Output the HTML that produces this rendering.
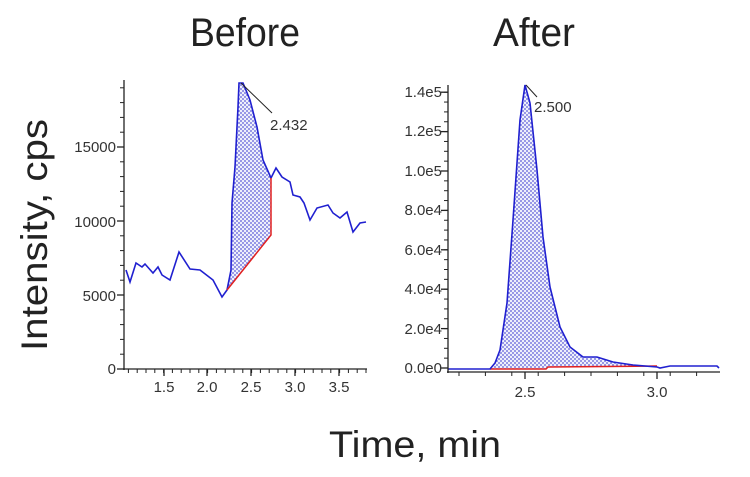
<!DOCTYPE html>
<html><head><meta charset="utf-8"><style>
html,body{margin:0;padding:0;background:#fff;}
svg{display:block;}
</style></head><body>
<svg id="s" width="750" height="477" viewBox="0 0 750 477" xmlns="http://www.w3.org/2000/svg" font-family="Liberation Sans, sans-serif">
<defs>
<pattern id="dots" width="4" height="4" patternUnits="userSpaceOnUse">
<rect width="4" height="4" fill="#eef0fb"/>
<circle cx="1" cy="1" r="0.9" fill="#5a5ad8"/>
<circle cx="3" cy="3" r="0.9" fill="#5a5ad8"/>
</pattern>
</defs>
<text x="245" y="46" font-size="40" text-anchor="middle" fill="#222" textLength="110" lengthAdjust="spacingAndGlyphs">Before</text>
<text x="534" y="46" font-size="40" text-anchor="middle" fill="#222" textLength="82" lengthAdjust="spacingAndGlyphs">After</text>
<text transform="translate(47,235) rotate(-90)" font-size="37" text-anchor="middle" fill="#222" textLength="232" lengthAdjust="spacingAndGlyphs">Intensity, cps</text>
<text x="415" y="457" font-size="37" text-anchor="middle" fill="#222" textLength="172" lengthAdjust="spacingAndGlyphs">Time, min</text>

<polygon fill="url(#dots)" points="227,290 231,270 232,203 235,167 238,107 239,83 243,83 250,100 257,127 263,160 271,178 271,235"/>
<polyline fill="none" stroke="#2020d0" stroke-width="1.6" points="126,270 130,282 136,263 142,267 145,264 153,273 158,267 162,275 170,280 179,252 190,269 200,270 213,280 222,297 227,290 231,270 232,203 235,167 238,107 239,83 243,83 250,100 257,127 263,160 271,178 276,168 282,177 290,182 293,195 300,197 304,203 310,220 317,208 328,205 333,213 340,218 347,212 353,232 360,223 366,222"/>
<polyline fill="none" stroke="#e02020" stroke-width="1.5" points="227,290 271,235 271,178"/>
<line x1="241" y1="83" x2="272" y2="113" stroke="#222" stroke-width="1"/>
<text x="270" y="130" font-size="15" fill="#333">2.432</text>
<g id="ax1" stroke="#222" fill="none"></g>
<g font-size="15" fill="#333" text-anchor="end">
<text x="116" y="374">0</text><text x="116" y="301">5000</text><text x="116" y="227">10000</text><text x="116" y="152">15000</text>
</g>
<g font-size="15" fill="#333" text-anchor="middle">
<text x="164" y="392">1.5</text><text x="207" y="392">2.0</text><text x="251" y="392">2.5</text><text x="295" y="392">3.0</text><text x="339" y="392">3.5</text>
</g>

<polygon fill="url(#dots)" points="490,369 495,363 500,350 507,303 513,220 520,120 525,85 530,103 537,170 543,237 550,287 560,327 570,347 583,357 597,357 613,362 633,365 657,367 657,366 548,367 547,369"/>
<polyline fill="none" stroke="#e02020" stroke-width="1.5" points="490,369 546,369 548,367 657,366"/>
<polyline fill="none" stroke="#2020d0" stroke-width="1.6" points="448,369 490,369 495,363 500,350 507,303 513,220 520,120 525,85 530,103 537,170 543,237 550,287 560,327 570,347 583,357 597,357 613,362 633,365 657,367 660,368 670,366 717,366 719,368"/>
<line x1="526" y1="85" x2="537" y2="97" stroke="#222" stroke-width="1"/>
<text x="534" y="112" font-size="15" fill="#333">2.500</text>
<g id="ax2" stroke="#222" fill="none"></g>
<g font-size="15" fill="#333" text-anchor="end">
<text x="442" y="373">0.0e0</text><text x="442" y="334">2.0e4</text><text x="442" y="294">4.0e4</text><text x="442" y="255">6.0e4</text><text x="442" y="215">8.0e4</text><text x="442" y="176">1.0e5</text><text x="442" y="136">1.2e5</text><text x="442" y="97">1.4e5</text>
</g>
<g font-size="15" fill="#333" text-anchor="middle">
<text x="525" y="397">2.5</text><text x="657" y="397">3.0</text>
</g>
</svg>
<script>
function L(g,x1,y1,x2,y2,w){var l=document.createElementNS("http://www.w3.org/2000/svg","line");l.setAttribute("x1",x1);l.setAttribute("y1",y1);l.setAttribute("x2",x2);l.setAttribute("y2",y2);l.setAttribute("stroke-width",w||1);g.appendChild(l);}
var a=document.getElementById("ax1");
L(a,124,80,124,370,1.3);L(a,123,369,367,369,1.3);
for(var i=0;i<=26;i++){var y=369-i*14.8; if(y<82)break; L(a,120,y,124,y,1);}
for(var k=0;k<4;k++){var y=369-k*74;L(a,117,y,124,y,1.3);}
for(var x=124+4.4;x<367;x+=8.8){L(a,x,369,x,373,1);}
[164,207,251,295,339].forEach(function(x){L(a,x,369,x,376,1.3);});
var b=document.getElementById("ax2");
L(b,448,85,448,373,1.3);L(b,447,372,720,372,1.3);
for(var y=368;y>86;y-=9.85){L(b,444,y,448,y,1);}
for(var k=0;k<8;k++){var y=368-k*39.4;L(b,441,y,448,y,1.3);}
for(var x=525-13.2*5;x<720;x+=26.4){if(x>448)L(b,x,372,x,376,1);}
[525,657].forEach(function(x){L(b,x,372,x,379,1.3);});
</script>
</body></html>
